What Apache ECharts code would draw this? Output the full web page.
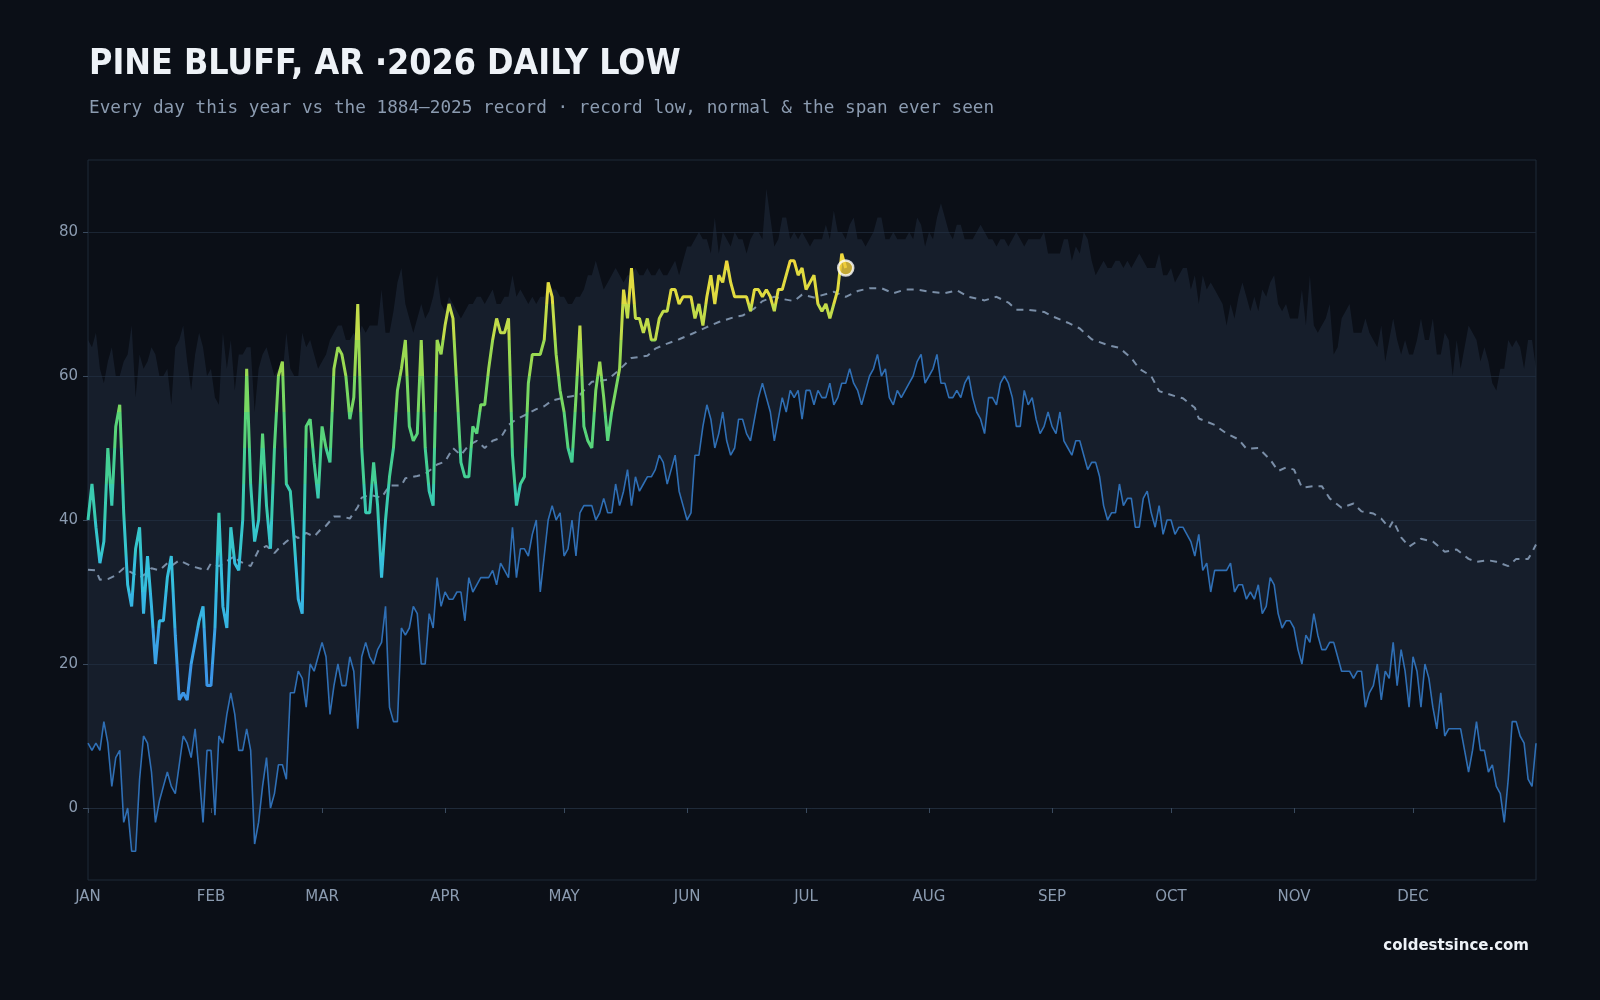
<!DOCTYPE html>
<html>
<head>
<meta charset="utf-8">
<title>Pine Bluff, AR 2026 daily low</title>
<script src="https://cdn.jsdelivr.net/npm/echarts@6/dist/echarts.min.js"></script>
<style>
  html, body { margin: 0; padding: 0; background: #0b0f17; }
  #chart { width: 1600px; height: 1000px; }
</style>
</head>
<body>
<div id="chart"></div>
<script>
// month ticks (day-of-year index)
const monthStarts = [0, 31, 59, 90, 120, 151, 181, 212, 243, 273, 304, 334];
const monthLabels = ['JAN', 'FEB', 'MAR', 'APR', 'MAY', 'JUN', 'JUL', 'AUG', 'SEP', 'OCT', 'NOV', 'DEC'];
const yTicks = [0, 20, 40, 60, 80];

// record low for each day, 1884-2025
const recordLow = [
  9, 8, 9, 8, 12, 9, 3, 7, 8, -2, 0, -6, -6, 4, 10, 9, 5, -2, 1, 3,
  5, 3, 2, 6, 10, 9, 7, 11, 5, -2, 8, 8, -1, 10, 9, 13, 16, 13, 8, 8,
  11, 8, -5, -2, 3, 7, 0, 2, 6, 6, 4, 16, 16, 19, 18, 14, 20, 19, 21, 23,
  21, 13, 17, 20, 17, 17, 21, 19, 11, 21, 23, 21, 20, 22, 23, 28, 14, 12, 12, 25,
  24, 25, 28, 27, 20, 20, 27, 25, 32, 28, 30, 29, 29, 30, 30, 26, 32, 30, 31, 32,
  32, 32, 33, 31, 34, 33, 32, 39, 32, 36, 36, 35, 38, 40, 30, 35, 40, 42, 40, 41,
  35, 36, 40, 35, 41, 42, 42, 42, 40, 41, 43, 41, 41, 45, 42, 44, 47, 42, 46, 44,
  45, 46, 46, 47, 49, 48, 45, 47, 49, 44, 42, 40, 41, 49, 49, 53, 56, 54, 50, 52,
  55, 51, 49, 50, 54, 54, 52, 51, 54, 57, 59, 57, 55, 51, 54, 57, 55, 58, 57, 58,
  54, 58, 58, 56, 58, 57, 57, 59, 56, 57, 59, 59, 61, 59, 58, 56, 58, 60, 61, 63,
  60, 61, 57, 56, 58, 57, 58, 59, 60, 62, 63, 59, 60, 61, 63, 59, 59, 57, 57, 58,
  57, 59, 60, 57, 55, 54, 52, 57, 57, 56, 59, 60, 59, 57, 53, 53, 58, 56, 57, 54,
  52, 53, 55, 53, 52, 55, 51, 50, 49, 51, 51, 49, 47, 48, 48, 46, 42, 40, 41, 41,
  45, 42, 43, 43, 39, 39, 43, 44, 41, 39, 42, 38, 40, 40, 38, 39, 39, 38, 37, 35,
  38, 33, 34, 30, 33, 33, 33, 33, 34, 30, 31, 31, 29, 30, 29, 31, 27, 28, 32, 31,
  27, 25, 26, 26, 25, 22, 20, 24, 23, 27, 24, 22, 22, 23, 23, 21, 19, 19, 19, 18,
  19, 19, 14, 16, 17, 20, 15, 19, 18, 23, 17, 22, 19, 14, 21, 19, 14, 20, 18, 14,
  11, 16, 10, 11, 11, 11, 11, 8, 5, 8, 12, 8, 8, 5, 6, 3, 2, -2, 4, 12,
  12, 10, 9, 4, 3, 9
];

// highest daily low ever seen (top of the span)
const recordHigh = [
  65, 64, 66, 61, 59, 62, 64, 60, 60, 62, 63, 67, 57, 63, 61, 62, 64, 63, 60, 60,
  61, 56, 64, 65, 67, 62, 58, 63, 66, 64, 60, 61, 57, 56, 66, 61, 65, 58, 63, 63,
  64, 64, 55, 61, 63, 64, 62, 60, 61, 60, 66, 61, 60, 60, 66, 64, 65, 63, 61, 62,
  63, 65, 66, 67, 67, 65, 65, 66, 65, 67, 66, 67, 67, 67, 72, 66, 66, 69, 73, 75,
  70, 68, 66, 68, 70, 68, 69, 71, 74, 70, 69, 71, 70, 69, 68, 69, 70, 70, 71, 71,
  70, 71, 72, 70, 70, 71, 71, 74, 71, 72, 71, 70, 71, 70, 71, 71, 73, 72, 72, 71,
  71, 70, 70, 71, 71, 72, 74, 74, 76, 74, 72, 73, 74, 75, 74, 73, 74, 74, 75, 74,
  74, 75, 74, 74, 75, 74, 74, 75, 76, 74, 76, 78, 78, 79, 80, 79, 79, 77, 82, 77,
  80, 79, 78, 80, 79, 79, 77, 79, 80, 80, 79, 86, 82, 78, 79, 82, 82, 79, 80, 79,
  80, 79, 78, 79, 79, 79, 81, 79, 83, 80, 80, 79, 81, 82, 79, 79, 78, 79, 80, 82,
  82, 79, 79, 80, 79, 79, 79, 80, 79, 82, 81, 78, 80, 79, 82, 84, 82, 80, 79, 81,
  81, 79, 79, 79, 80, 81, 80, 79, 79, 78, 79, 79, 78, 79, 80, 79, 78, 79, 79, 79,
  79, 80, 77, 77, 77, 77, 79, 79, 76, 78, 77, 80, 79, 76, 74, 75, 76, 75, 75, 76,
  76, 75, 76, 75, 76, 77, 76, 75, 75, 75, 77, 74, 74, 75, 73, 74, 75, 75, 72, 74,
  70, 74, 72, 73, 72, 71, 70, 67, 70, 68, 71, 73, 71, 69, 71, 69, 72, 71, 73, 74,
  70, 69, 70, 68, 68, 68, 72, 67, 74, 67, 66, 67, 68, 70, 63, 64, 68, 69, 70, 66,
  66, 66, 68, 66, 65, 64, 67, 62, 65, 68, 65, 63, 65, 63, 63, 65, 68, 65, 65, 68,
  63, 63, 66, 65, 60, 65, 61, 64, 67, 66, 65, 62, 64, 62, 59, 58, 61, 61, 65, 64,
  65, 64, 61, 65, 65, 61
];

// normal daily low, [day, value]
const normalLow = [
  [0, 33.1], [2, 33], [3, 31.7], [5, 31.8], [7, 32.3], [9, 33.3], [11, 32.7], [13, 32],
  [15, 32.7], [16, 33.3], [18, 33], [20, 34], [21, 33.6], [23, 34.4], [26, 33.6], [28, 33.3],
  [30, 33], [31, 34], [33, 33.6], [35, 34.3], [37, 35], [38, 34.3], [41, 33.6], [43, 35.8],
  [45, 36.4], [47, 35.4], [48, 36], [50, 37], [52, 37.8], [53, 37.5], [55, 38.2], [57, 37.7],
  [59, 38.9], [60, 39.2], [62, 40.5], [64, 40.5], [66, 40.2], [68, 41.8], [69, 43.1], [71, 43.5],
  [74, 43.1], [76, 44.8], [79, 44.8], [80, 45.8], [83, 46.1], [85, 46.4], [88, 47.7], [90, 48.1],
  [92, 50], [94, 49], [96, 50.4], [98, 51], [100, 50], [102, 51], [104, 51.4], [106, 53.2],
  [108, 54], [111, 54.8], [113, 55.4], [115, 55.8], [117, 56.6], [120, 57], [122, 57.2], [124, 57.4],
  [127, 59.2], [131, 59.5], [134, 60.9], [137, 62.5], [141, 62.8], [143, 63.8], [146, 64.5], [149, 65.1],
  [152, 65.8], [156, 66.8], [159, 67.5], [163, 68.2], [165, 68.4], [168, 69.4], [170, 70.4], [173, 71],
  [175, 70.7], [178, 70.4], [180, 71.3], [183, 70.9], [188, 71.7], [191, 71], [194, 71.8], [197, 72.2],
  [200, 72.2], [203, 71.5], [206, 72], [209, 72], [212, 71.7], [216, 71.5], [219, 71.9], [222, 71],
  [226, 70.5], [229, 71], [232, 70.2], [234, 69.2], [237, 69.2], [241, 68.9], [243, 68.3], [247, 67.4],
  [250, 66.6], [253, 65.1], [257, 64.3], [260, 63.9], [263, 62.5], [265, 61], [268, 60], [270, 57.9],
  [274, 57.2], [276, 56.9], [279, 55.6], [280, 54.1], [284, 53.2], [287, 52], [290, 51.2], [292, 49.9],
  [295, 50], [298, 48.4], [300, 46.8], [302, 47.3], [304, 47], [306, 44.5], [309, 44.7], [311, 44.7],
  [313, 43], [316, 41.7], [319, 42.3], [321, 41.2], [324, 40.9], [326, 40.2], [328, 38.9], [329, 39.9],
  [331, 37.6], [333, 36.3], [336, 37.4], [339, 37], [342, 35.6], [345, 35.9], [348, 34.6], [350, 34.2],
  [353, 34.4], [355, 34.2], [358, 33.6], [360, 34.6], [363, 34.6], [364, 35.5], [365, 36.6]
];

// 2026 observed daily lows, Jan 1 onward
const lows2026 = [
  40, 45, 39, 34, 37, 50, 42, 53, 56, 41, 31, 28, 36, 39, 27, 35, 28, 20, 26, 26,
  32, 35, 24, 15, 16, 15, 20, 23, 26, 28, 17, 17, 25, 41, 28, 25, 39, 34, 33, 40,
  61, 45, 37, 40, 52, 42, 36, 50, 60, 62, 45, 44, 37, 29, 27, 53, 54, 48, 43, 53,
  50, 48, 61, 64, 63, 60, 54, 57, 70, 50, 41, 41, 48, 42, 32, 40, 46, 50, 58, 61,
  65, 53, 51, 52, 65, 50, 44, 42, 65, 63, 67, 70, 68, 58, 48, 46, 46, 53, 52, 56,
  56, 61, 65, 68, 66, 66, 68, 49, 42, 45, 46, 59, 63, 63, 63, 65, 73, 71, 63, 58,
  55, 50, 48, 57, 67, 53, 51, 50, 58, 62, 57, 51, 55, 58, 61, 72, 68, 75, 68, 68,
  66, 68, 65, 65, 68, 69, 69, 72, 72, 70, 71, 71, 71, 68, 70, 67, 71, 74, 70, 74,
  73, 76, 73, 71, 71, 71, 71, 69, 72, 72, 71, 72, 71, 69, 72, 72, 74, 76, 76, 74,
  75, 72, 73, 74, 70, 69, 70, 68, 70, 72, 77, 75
];

const days = recordLow.map((v, i) => String(i));
const spanSize = recordHigh.map((v, i) => v - recordLow[i]);
const lastIdx = lows2026.length - 1;

const labelColor = '#8b9bb0';

const chart = echarts.init(document.getElementById('chart'));

const option = {
  backgroundColor: '#0b0f17',
  animation: false,
  title: [
    {
      text: 'PINE BLUFF, AR \u00b72026 DAILY LOW',
      left: 84,
      top: 42,
      textStyle: {
        color: '#eef2f7',
        fontSize: 35.5,
        fontWeight: 'bold',
        fontFamily: "'Liberation Sans Narrow', 'DejaVu Sans Condensed', sans-serif"
      }
    },
    {
      text: 'Every day this year vs the 1884\u20132025 record \u00b7 record low, normal & the span ever seen',
      left: 84,
      top: 94,
      textStyle: {
        color: labelColor,
        fontSize: 17.7,
        fontWeight: 'normal',
        fontFamily: "'DejaVu Sans Mono', monospace"
      }
    },
    {
      text: 'coldestsince.com',
      right: 66,
      top: 934,
      textStyle: {
        color: '#eef2f7',
        fontSize: 15,
        fontWeight: 'bold',
        fontFamily: "'DejaVu Sans', sans-serif"
      }
    }
  ],
  grid: {
    left: 88,
    right: 64,
    top: 160,
    bottom: 120,
    show: true,
    borderColor: '#1f2a39',
    borderWidth: 1,
    backgroundColor: 'transparent'
  },
  xAxis: {
    type: 'category',
    data: days,
    boundaryGap: false,
    axisLine: { show: true, lineStyle: { color: '#1f2a39' } },
    axisTick: {
      show: true,
      length: 5,
      interval: (i) => monthStarts.includes(i),
      lineStyle: { color: '#3a4a5e' }
    },
    axisLabel: {
      interval: (i) => monthStarts.includes(i),
      formatter: (v) => monthLabels[monthStarts.indexOf(Number(v))] || '',
      color: labelColor,
      fontSize: 15,
      margin: 10,
      fontFamily: "'DejaVu Sans', sans-serif"
    },
    splitLine: { show: false }
  },
  yAxis: {
    type: 'value',
    min: -10,
    max: 90,
    axisLine: { show: false },
    axisTick: {
      show: true,
      length: 5,
      customValues: yTicks,
      lineStyle: { color: '#3a4a5e' }
    },
    axisLabel: {
      customValues: yTicks,
      color: labelColor,
      fontSize: 15,
      margin: 10,
      fontFamily: "'DejaVu Sans', sans-serif"
    },
    splitLine: { show: true, lineStyle: { color: '#1b2533', width: 1 } }
  },
  visualMap: {
    type: 'piecewise',
    show: false,
    seriesIndex: 4,
    dimension: 1,
    pieces: [
      { lt: 20, color: '#3b95e6' },
      { gte: 20, lt: 25, color: '#3aa2e6' },
      { gte: 25, lt: 30, color: '#36b5e2' },
      { gte: 30, lt: 35, color: '#35bfdc' },
      { gte: 35, lt: 40, color: '#36c6cc' },
      { gte: 40, lt: 45, color: '#3acbb0' },
      { gte: 45, lt: 50, color: '#44cf94' },
      { gte: 50, lt: 55, color: '#58d47a' },
      { gte: 55, lt: 60, color: '#78d862' },
      { gte: 60, lt: 65, color: '#9ada52' },
      { gte: 65, lt: 70, color: '#c2dc4a' },
      { gte: 70, lt: 75, color: '#e0db40' },
      { gte: 75, color: '#efd83c' }
    ]
  },
  series: [
    {
      name: 'base',
      type: 'line',
      data: recordLow,
      stack: 'span',
      stackStrategy: 'all',
      symbol: 'none',
      silent: true,
      lineStyle: { opacity: 0 }
    },
    {
      name: 'span',
      type: 'line',
      data: spanSize,
      stack: 'span',
      stackStrategy: 'all',
      symbol: 'none',
      silent: true,
      lineStyle: { opacity: 0 },
      areaStyle: { color: 'rgba(36, 50, 70, 0.64)' }
    },
    {
      name: 'record low',
      type: 'line',
      data: recordLow,
      symbol: 'none',
      lineStyle: { color: '#2f6fb5', width: 1.6 }
    },
    {
      name: 'normal',
      type: 'line',
      data: normalLow,
      symbol: 'none',
      lineStyle: { color: '#7a8ea7', width: 2, type: [7, 6] }
    },
    {
      name: '2026',
      type: 'line',
      data: lows2026,
      symbol: 'none',
      lineStyle: { width: 3 },
      z: 5
    },
    {
      name: 'latest',
      type: 'scatter',
      data: [[lastIdx, lows2026[lastIdx]]],
      symbolSize: 15,
      itemStyle: { color: '#efcb3a', borderColor: '#ffffff', borderWidth: 2.5 },
      z: 6
    }
  ]
};

chart.setOption(option);
</script>
</body>
</html>
